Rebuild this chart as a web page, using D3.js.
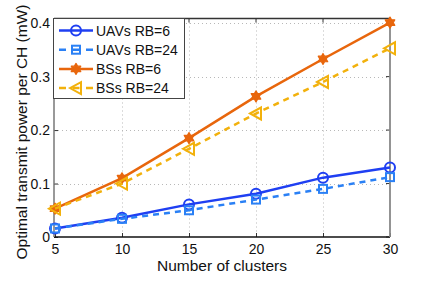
<!DOCTYPE html>
<html lang="en">
<head>
<meta charset="utf-8">
<title>Optimal transmit power per CH</title>
<script src="https://cdn.jsdelivr.net/npm/d3@7"></script>
<style>
  body { margin: 0; background: #fff; }
  svg { font-family: "Liberation Sans", Arial, sans-serif; }
</style>
</head>
<body>
<svg width="436" height="281"></svg>
<script>
// data
var clusters = [5, 10, 15, 20, 25, 30];
var uavRb6  = [0.016, 0.036, 0.061, 0.081, 0.111, 0.130];
var uavRb24 = [0.016, 0.034, 0.050, 0.070, 0.090, 0.112];
var bsRb6   = [0.053, 0.110, 0.185, 0.263, 0.333, 0.401];
var bsRb24  = [0.053, 0.100, 0.165, 0.231, 0.290, 0.353];
var yTicks = [0, 0.1, 0.2, 0.3, 0.4];
var seriesNames = ["UAVs RB=6", "UAVs RB=24", "BSs RB=6", "BSs RB=24"];

var series = [
  { name: seriesNames[0], values: uavRb6,  color: "#1f3ff2", dash: null,  marker: "circle" },
  { name: seriesNames[1], values: uavRb24, color: "#2a80f5", dash: "6,5", marker: "square" },
  { name: seriesNames[2], values: bsRb6,   color: "#e8660c", dash: null,  marker: "star" },
  { name: seriesNames[3], values: bsRb24,  color: "#f2b10c", dash: "6,5", marker: "triangle" }
];

var svg = d3.select("svg");
var pLeft = 54, pRight = 390, pTop = 18.5, pBottom = 237;

var x = d3.scaleLinear().domain([5, 30]).range([pLeft + 1, pRight]);
var y = d3.scaleLinear().domain([0, 0.4087]).range([pBottom, pTop]);

// grid
var grid = svg.append("g").attr("stroke", "#b8b8b8").attr("stroke-width", 1).attr("stroke-dasharray", "1,3");
grid.selectAll(".gx").data(clusters.slice(1, -1)).enter().append("line")
  .attr("x1", function(d) { return Math.round(x(d)) + 0.5; })
  .attr("x2", function(d) { return Math.round(x(d)) + 0.5; })
  .attr("y1", pTop).attr("y2", pBottom);
grid.selectAll(".gy").data(yTicks.slice(1)).enter().append("line")
  .attr("y1", function(d) { return Math.round(y(d)) + 0.5; })
  .attr("y2", function(d) { return Math.round(y(d)) + 0.5; })
  .attr("x1", pLeft).attr("x2", pRight);

// axes (matlab style, ticks inward)
var xAxis = d3.axisBottom(x).tickValues(clusters).tickSizeInner(-4).tickSizeOuter(0).tickPadding(7);
var yAxis = d3.axisLeft(y).tickValues(yTicks).tickSizeInner(-4).tickSizeOuter(0).tickPadding(4)
  .tickFormat(function(d) { return d === 0 ? "0" : d3.format(".1f")(d); });

var gx = svg.append("g").attr("transform", "translate(0," + pBottom + ")").call(xAxis);
var gy = svg.append("g").attr("transform", "translate(" + pLeft + ",0)").call(yAxis);
[gx, gy].forEach(function(g) {
  g.select(".domain").remove();
  g.selectAll(".tick line").attr("stroke", "#333");
  g.selectAll("text").attr("font-size", 14).attr("fill", "#111");
});

// top/right ticks
svg.append("g").selectAll("line").data(clusters).enter().append("line")
  .attr("x1", function(d) { return x(d); }).attr("x2", function(d) { return x(d); })
  .attr("y1", pTop).attr("y2", pTop + 4).attr("stroke", "#333");
svg.append("g").selectAll("line").data(yTicks).enter().append("line")
  .attr("y1", function(d) { return y(d); }).attr("y2", function(d) { return y(d); })
  .attr("x1", pRight).attr("x2", pRight - 4).attr("stroke", "#333");

// frame
svg.append("line").attr("x1", pLeft).attr("x2", pRight).attr("y1", pBottom).attr("y2", pBottom).attr("stroke", "#111").attr("stroke-width", 1.3);
svg.append("line").attr("x1", pLeft).attr("x2", pRight).attr("y1", pTop).attr("y2", pTop).attr("stroke", "#333").attr("stroke-width", 1.3);
svg.append("line").attr("x1", pLeft).attr("x2", pLeft).attr("y1", pTop).attr("y2", pBottom).attr("stroke", "#777").attr("stroke-width", 1.5);
svg.append("line").attr("x1", pRight).attr("x2", pRight).attr("y1", pTop).attr("y2", pBottom).attr("stroke", "#888").attr("stroke-width", 1.8);

// 6-point star (hexagram) for the BS RB=6 series
function hexagram(cx, cy, ro, ri) {
  var pts = [];
  for (var k = 0; k < 12; k++) {
    var a = -Math.PI / 2 + k * Math.PI / 6, r = k % 2 ? ri : ro;
    pts.push([cx + r * Math.cos(a), cy + r * Math.sin(a)]);
  }
  return "M" + pts.join("L") + "Z";
}

// markers
function drawMarker(g, type, cx, cy, color) {
  if (type === "circle") {
    g.append("circle").attr("cx", cx).attr("cy", cy).attr("r", 5)
      .attr("fill", "none").attr("stroke", color).attr("stroke-width", 2);
  } else if (type === "square") {
    g.append("rect").attr("x", cx - 4).attr("y", cy - 4).attr("width", 8).attr("height", 8)
      .attr("fill", "none").attr("stroke", color).attr("stroke-width", 2);
  } else if (type === "star") {
    g.append("path").attr("d", hexagram(cx, cy, 5.5, 3.2))
      .attr("fill", color).attr("stroke", color).attr("stroke-width", 1.2).attr("stroke-linejoin", "round");
  } else if (type === "triangle") {
    g.append("path").attr("d", "M" + (cx - 6) + "," + cy + "L" + (cx + 5) + "," + (cy - 6) + "L" + (cx + 5) + "," + (cy + 6) + "Z")
      .attr("fill", "none").attr("stroke", color).attr("stroke-width", 2);
  }
}

var line = d3.line().x(function(d, i) { return x(clusters[i]); }).y(function(d) { return y(d); });

series.forEach(function(s) {
  var g = svg.append("g");
  g.append("path").datum(s.values).attr("d", line)
    .attr("fill", "none").attr("stroke", s.color).attr("stroke-width", 2.5)
    .attr("stroke-dasharray", s.dash);
  s.values.forEach(function(v, i) { drawMarker(g, s.marker, x(clusters[i]), y(v), s.color); });
});

// legend
var legend = svg.append("g");
legend.append("rect").attr("x", 53.5).attr("y", 18.5).attr("width", 131).attr("height", 80)
  .attr("fill", "#fff").attr("stroke", "#444").attr("stroke-width", 1);
series.forEach(function(s, i) {
  var ly = 30.5 + i * 19.2;
  legend.append("line").attr("x1", 59).attr("x2", 93).attr("y1", ly).attr("y2", ly)
    .attr("stroke", s.color).attr("stroke-width", 2.5).attr("stroke-dasharray", s.dash ? "7,6.5,7,6.5,7" : null);
  drawMarker(legend, s.marker, 76, ly, s.color);
  legend.append("text").attr("x", 96).attr("y", ly + 5).attr("font-size", 14).attr("fill", "#111").text(s.name);
});

// axis titles
svg.append("text").attr("x", 222).attr("y", 271).attr("text-anchor", "middle")
  .attr("font-size", 15.5).attr("fill", "#111").text("Number of clusters");
svg.append("text").attr("transform", "translate(27,132) rotate(-90)").attr("text-anchor", "middle")
  .attr("font-size", 15.5).attr("fill", "#111").text("Optimal transmit power per CH (mW)");
</script>
</body>
</html>
